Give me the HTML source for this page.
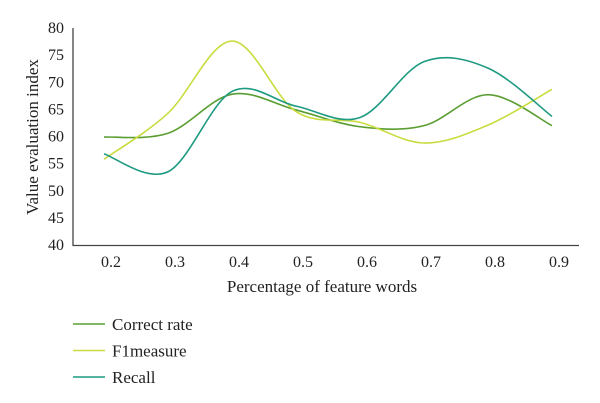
<!DOCTYPE html>
<html><head><meta charset="utf-8"><style>
html,body{margin:0;padding:0;background:#fff;}
svg{display:block;font-family:"Liberation Serif",serif;}
</style></head><body>
<svg width="600" height="403" viewBox="0 0 600 403">
<g id="axes"></g><g id="series"></g><g id="legend"></g>
</svg>
<script>
const categories = ["0.2","0.3","0.4","0.5","0.6","0.7","0.8","0.9"];
const yTicks = [40,45,50,55,60,65,70,75,80];
const correctRate = [59.9,60.6,67.8,64.9,61.8,62.0,67.7,62.0];
const f1measure = [55.8,64.3,77.6,64.6,62.6,58.8,62.1,68.7];
const recall = [56.8,53.5,68.3,65.6,63.5,73.8,72.6,63.7];
const seriesNames = ["Correct rate","F1measure","Recall"];

const NS="http://www.w3.org/2000/svg";
const svg=document.querySelector('svg');
const ax=document.getElementById('axes'), sg=document.getElementById('series'), lg=document.getElementById('legend');
function X(i){return 104+i*64;}
function Y(v){return 245-(v-40)/40*217;}
function mk(tag,attrs,parent){const e=document.createElementNS(NS,tag);for(const k in attrs)e.setAttribute(k,attrs[k]);parent.appendChild(e);return e;}

let yl=mk('line',{x1:73,y1:28,x2:73,y2:245.5,stroke:'#444','stroke-width':1.3},ax);


let xl=mk('line',{x1:72.5,y1:245.5,x2:579,y2:245.5,stroke:'#444','stroke-width':1.3},ax);


yTicks.forEach(v=>{
  const t=mk('text',{x:64,y:Y(v)+5,'text-anchor':'end','font-size':16,fill:'#222'},ax);
  t.textContent=v;
  
  
});
categories.forEach((c,i)=>{
  const t=mk('text',{x:X(i)+7,y:267,'text-anchor':'middle','font-size':16,fill:'#222'},ax);
  t.textContent=c;
  
  
});
const xt=mk('text',{x:322,y:292,'text-anchor':'middle','font-size':17,fill:'#222'},ax);
xt.textContent='Percentage of feature words';


const yt=mk('text',{x:0,y:0,'text-anchor':'middle','font-size':17,fill:'#222',transform:'translate(38,137) rotate(-90)'},ax);
yt.textContent='Value evaluation index';



function smooth(vals){
  const p=vals.map((v,i)=>[X(i),Y(v)]);
  let d='M'+p[0][0]+','+p[0][1];
  for(let i=0;i<p.length-1;i++){
    const p0=p[i-1]||p[i],p1=p[i],p2=p[i+1],p3=p[i+2]||p[i+1];
    const c1=[p1[0]+(p2[0]-p0[0])/6,p1[1]+(p2[1]-p0[1])/6];
    const c2=[p2[0]-(p3[0]-p1[0])/6,p2[1]-(p3[1]-p1[1])/6];
    d+=' C'+c1[0]+','+c1[1]+' '+c2[0]+','+c2[1]+' '+p2[0]+','+p2[1];
  }
  return d;
}
const all=[correctRate,f1measure,recall];
const colors=['#5a9e32','#c9dc3e','#1e9a80'];
const names=['series-correct-rate','series-f1measure','series-recall'];
all.forEach((s,k)=>{
  const p=mk('path',{d:smooth(s),fill:'none',stroke:colors[k],'stroke-width':1.6},sg);
  
  
  const ly=324+k*26.5;
  const l=mk('line',{x1:73,y1:ly,x2:105,y2:ly,stroke:colors[k],'stroke-width':1.6},lg);
  
  
  const t=mk('text',{x:112,y:ly+6,'font-size':17,fill:'#222'},lg);
  t.textContent=seriesNames[k];
  
  
});
</script>
</body></html>
